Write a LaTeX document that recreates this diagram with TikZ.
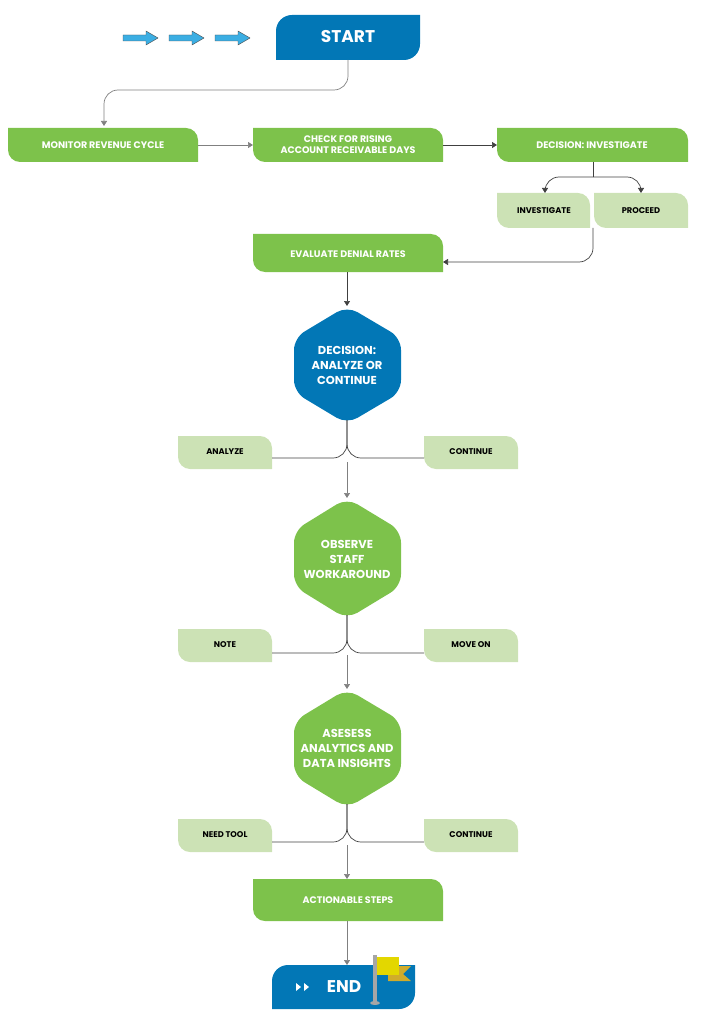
\documentclass[tikz,border=0pt]{standalone}
\usepackage{fontspec}
\setmainfont{Poppins}
\usetikzlibrary{arrows.meta}
\definecolor{gr}{HTML}{7DC24B}
\definecolor{lg}{HTML}{CCE2B5}
\definecolor{bl}{HTML}{0277B6}
\definecolor{sky}{HTML}{3BAEE3}
\begin{document}
\begin{tikzpicture}[x=1pt,y=-1pt,
  lbl/.style={inner sep=0pt,align=center,font=\fontsize{9.5}{11}\selectfont\bfseries,text=white},
  dlbl/.style={inner sep=0pt,align=center,font=\fontsize{8.3}{10}\selectfont\bfseries,text=black},
  hlbl/.style={lbl,font=\fontsize{11.5}{15}\selectfont\bfseries},
  con/.style={draw=black!75,line width=0.7pt,rounded corners=14pt},
  arr/.style={con,-{Triangle[length=5pt,width=6pt]}}]
\useasboundingbox (0,0) rectangle (702,1024);
\newcommand\leafTR[5]{\fill[#5] (#1,#2) -- ({#3-12},#2) arc[start angle=-90,end angle=0,radius=12] -- (#3,#4) -- ({#1+12},#4) arc[start angle=90,end angle=180,radius=12] -- cycle;}
\newcommand\leafTL[5]{\fill[#5] ({#1+16},#2) -- (#3,#2) -- (#3,{#4-16}) arc[start angle=0,end angle=90,radius=16] -- (#1,#4) -- (#1,{#2+16}) arc[start angle=180,end angle=270,radius=16] -- cycle;}
\newcommand\hexa[3]{\fill[#3,rounded corners=12pt] (347,#1) -- (401,{#1+(#2-#1)*0.27}) -- (401,{#1+(#2-#1)*0.73}) -- (347,#2) -- (294,{#1+(#2-#1)*0.73}) -- (294,{#1+(#2-#1)*0.27}) -- cycle;}
\foreach \x in {123,169,215}{
  \fill[sky,draw=black!70,line width=0.4pt] (\x,35) -- (\x+23,35) -- (\x+23,31) -- (\x+35,38) -- (\x+23,45) -- (\x+23,41) -- (\x,41) -- cycle;}
\leafTL{276}{15}{420}{60}{bl}
\node[lbl,font=\fontsize{17}{19}\selectfont\bfseries] (start) at (348,37) {START};
\leafTR{8}{128}{198}{162}{gr}
\node[lbl] (mon) at (103,145) {MONITOR REVENUE CYCLE};
\leafTR{253}{128}{443}{162}{gr}
\node[lbl] (chk) at (348,145) {CHECK FOR RISING\\ACCOUNT RECEIVABLE DAYS};
\leafTR{497}{128}{688}{162}{gr}
\node[lbl] (dinv) at (592,145) {DECISION: INVESTIGATE};
\leafTR{497}{193}{590}{228}{lg}
\node[dlbl] (inv) at (544,211) {INVESTIGATE};
\leafTR{594}{193}{688}{228}{lg}
\node[dlbl] (pro) at (641,211) {PROCEED};
\leafTR{253}{234}{443}{272}{gr}
\node[lbl] (eva) at (348,254) {EVALUATE DENIAL RATES};
\hexa{306}{424}{bl}
\node[hlbl] (h1) at (347,365) {DECISION:\\ANALYZE OR\\CONTINUE};
\leafTR{178}{436}{272}{469}{lg}
\node[dlbl] (an) at (225,452) {ANALYZE};
\leafTR{424}{436}{518}{469}{lg}
\node[dlbl] (co1) at (471,452) {CONTINUE};
\hexa{498}{619}{gr}
\node[hlbl] (h2) at (347,559) {OBSERVE\\STAFF\\WORKAROUND};
\leafTR{178}{629}{272}{662}{lg}
\node[dlbl] (no) at (225,645) {NOTE};
\leafTR{424}{629}{518}{662}{lg}
\node[dlbl] (mo) at (471,645) {MOVE ON};
\hexa{689}{808}{gr}
\node[hlbl] (h3) at (347,748) {ASESESS\\ANALYTICS AND\\DATA INSIGHTS};
\leafTR{178}{819}{272}{852}{lg}
\node[dlbl] (nt) at (225,835) {NEED TOOL};
\leafTR{424}{819}{518}{852}{lg}
\node[dlbl] (co2) at (471,835) {CONTINUE};
\leafTR{253}{879}{443}{921}{gr}
\node[lbl] (act) at (348,900) {ACTIONABLE STEPS};
\leafTL{272}{965}{415}{1009}{bl}
\node[lbl,font=\fontsize{17}{19}\selectfont\bfseries] (end) at (344,987) {END};
\fill[white] (296,983) -- (301,987) -- (296,991) -- cycle (304,983) -- (309,987) -- (304,991) -- cycle;
\fill[gray!70] (373,955) rectangle (377,1003);
\fill[gray!70] (375,1003) ellipse (5 and 2);
\fill[yellow!60!orange!80!black] (388,966) -- (411,966) -- (403,974) -- (411,981) -- (388,981) -- cycle;
\fill[yellow!75!olive] (377,957) rectangle (399,975);
\coordinate (sb) at (348,60);
\draw[arr,draw=gray] (sb) -- (348,90) -- (104,90) -- (104,126);
\draw[arr,draw=gray] (mon.east -| 198,145) -- (253,145);
\draw[arr] (443,145) -- (497,145);
\draw[con] (593,162) -- (593,177);
\draw[arr] (593,177) -- (545,177) -- (545,193);
\draw[arr] (593,177) -- (641,177) -- (641,193);
\draw[arr] (593,228) -- (593,262) -- (443,262);
\draw[arr] (347,272) -- (347,306);
\foreach \y in {424,619,808}{
  \draw[con] (347,\y) -- (347,\y+10) -- (347,\y+34) -- (272,\y+34);
  \draw[con] (347,\y) -- (347,\y+10) -- (347,\y+34) -- (424,\y+34);
}
\draw[arr,draw=gray] (347,462) -- (347,498);
\draw[arr,draw=gray] (347,655) -- (347,689);
\draw[arr,draw=gray] (347,845) -- (347,879);
\draw[arr,draw=gray] (347,921) -- (347,965);
\end{tikzpicture}
\end{document}
